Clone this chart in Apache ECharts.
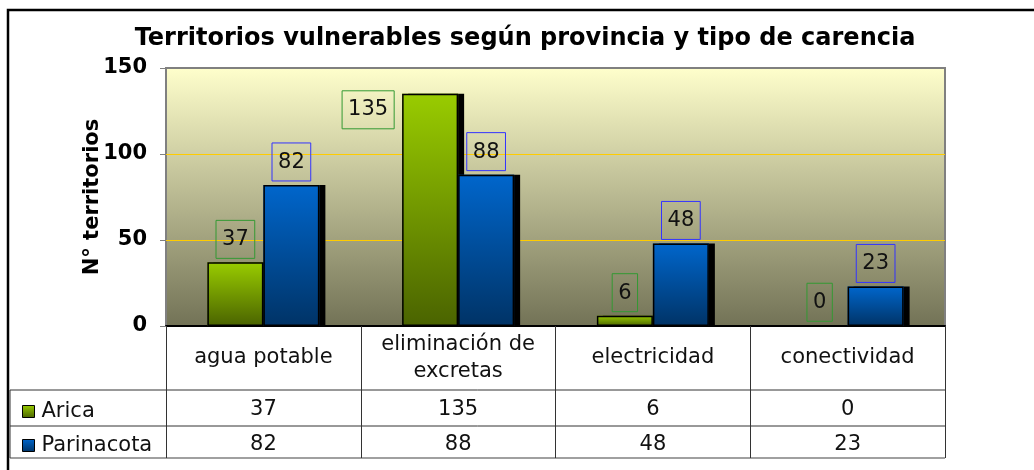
<!DOCTYPE html>
<html>
<head>
<meta charset="utf-8">
<script src="https://cdn.jsdelivr.net/npm/echarts@6/dist/echarts.min.js"></script>
<style>
  html, body { margin: 0; padding: 0; background: #fff; }
  #chart { width: 1034px; height: 470px; }
</style>
</head>
<body>
<div id="chart"></div>
<script>
// data
const categories = ['agua potable', 'eliminación de\nexcretas', 'electricidad', 'conectividad'];
const arica = [37, 135, 6, 0];
const parinacota = [82, 88, 48, 23];
const yTicks = [0, 50, 100, 150];

const FONT = 'DejaVu Sans';
const TXT = 21;
const chart = echarts.init(document.getElementById('chart'), null, { renderer: 'canvas' });

const grad = (top, bottom) => new echarts.graphic.LinearGradient(0, 0, 0, 1, [
    { offset: 0, color: top },
    { offset: 1, color: bottom }
]);

const barLabel = (border) => ({
    show: true,
    position: 'top',
    distance: 4,
    fontFamily: FONT,
    fontSize: TXT,
    color: '#111',
    borderColor: border,
    borderWidth: 1,
    padding: [9, 6, 8, 6]
});

// 135 does not fit above the plot, Excel put it to the left of the bar
const outlineData = (arr, moveIdx) => arr.map((v, i) => {
    const d = { value: v };
    if (v === 0) d.itemStyle = { borderColor: 'transparent' };
    if (i === moveIdx) d.label = { position: [-34, 16], align: 'center', verticalAlign: 'middle' };
    return d;
});

const valueAxis = (arr, margin) => ({
    type: 'category',
    position: 'bottom',
    data: categories,
    axisLine: { show: false },
    axisTick: { show: false },
    axisLabel: {
        interval: 0,
        margin: margin,
        verticalAlign: 'middle',
        fontFamily: FONT,
        fontSize: TXT,
        color: '#111',
        formatter: (v, i) => String(arr[i])
    }
});

// fill + shadow, drawn without border (a stroked shape would shadow its own outline)
const fillSeries = (name, arr, top, bottom) => ({
    name: name,
    type: 'bar',
    xAxisIndex: 0,
    data: arr,
    barWidth: 56,
    barGap: '0%',
    itemStyle: {
        color: grad(top, bottom),
        shadowColor: '#000',
        shadowOffsetX: 6,
        shadowOffsetY: 0,
        shadowBlur: 0
    }
});

// black outline + data label on top of the fill
const outlineSeries = (name, arr, labelBorder, moveIdx) => ({
    name: name,
    type: 'bar',
    xAxisIndex: 3,
    data: outlineData(arr, moveIdx),
    barWidth: 56,
    barGap: '0%',
    z: 3,
    itemStyle: { color: 'transparent', borderColor: '#000', borderWidth: 1.5 },
    label: barLabel(labelBorder)
});

const option = {
    animation: false,
    backgroundColor: '#fff',
    title: {
        text: 'Territorios vulnerables según provincia y tipo de carencia',
        left: 520,
        top: 22,
        textAlign: 'center',
        textStyle: { fontFamily: FONT, fontSize: 24, fontWeight: 'bold', color: '#000' }
    },
    legend: {
        orient: 'vertical',
        left: 17,
        top: 396,
        itemGap: 13,
        itemWidth: 12,
        itemHeight: 12,
        icon: 'rect',
        itemStyle: { borderColor: '#000', borderWidth: 1 },
        textStyle: { fontFamily: FONT, fontSize: TXT, color: '#111', padding: [0, 0, 0, 2] },
        data: ['Arica', 'Parinacota']
    },
    grid: {
        left: 166,
        top: 68,
        right: 89,
        bottom: 144,
        show: true,
        borderColor: '#808080',
        borderWidth: 2,
        backgroundColor: grad('#ffffcc', '#727256')
    },
    xAxis: [
        {
            type: 'category',
            position: 'bottom',
            data: categories,
            axisLine: { show: true, lineStyle: { color: '#000', width: 2 } },
            // long ticks at the category edges form the table's column lines
            axisTick: { show: true, interval: 0, alignWithLabel: false, length: 132, lineStyle: { color: '#333', width: 1 } },
            axisLabel: {
                interval: 0,
                margin: 32,
                verticalAlign: 'middle',
                lineHeight: 27,
                fontFamily: FONT,
                fontSize: TXT,
                color: '#111'
            }
        },
        valueAxis(arica, 84),
        valueAxis(parinacota, 119),
        { type: 'category', position: 'bottom', data: categories, show: false }
    ],
    yAxis: {
        type: 'value',
        min: 0,
        max: 150,
        interval: 50,
        name: 'N° territorios',
        nameLocation: 'middle',
        nameGap: 63,
        nameMoveOverlap: false,
        nameTextStyle: { fontFamily: FONT, fontSize: 21, fontWeight: 'bold', color: '#000' },
        axisLine: { show: false },
        axisTick: { show: true, length: 6, lineStyle: { color: '#808080' } },
        axisLabel: {
            margin: 19,
            fontFamily: FONT,
            fontSize: 21,
            fontWeight: 'bold',
            color: '#000',
            formatter: v => yTicks.includes(v) ? String(v) : ''
        },
        splitLine: { lineStyle: { color: ['transparent', '#ffcc00', '#ffcc00', 'transparent'], width: 1 } }
    },
    series: [
        fillSeries('Arica', arica, '#99cc00', '#4a6300'),
        fillSeries('Parinacota', parinacota, '#0066cc', '#003366'),
        outlineSeries('Arica', arica, '#339933', 1),
        outlineSeries('Parinacota', parinacota, '#3333ff', -1)
    ],
    graphic: [
        // outer chart frame (only top and left show in the crop)
        { type: 'polyline', shape: { points: [[8, 480], [8, 10], [1050, 10]] }, style: { stroke: '#000', lineWidth: 2.5, fill: null } },
        // data table rows
        { type: 'line', shape: { x1: 10, y1: 390, x2: 945, y2: 390 }, style: { stroke: '#333', lineWidth: 1 } },
        { type: 'line', shape: { x1: 10, y1: 426, x2: 945, y2: 426 }, style: { stroke: '#333', lineWidth: 1 } },
        { type: 'line', shape: { x1: 10, y1: 458, x2: 945, y2: 458 }, style: { stroke: '#808080', lineWidth: 1.5 } },
        { type: 'line', shape: { x1: 10, y1: 390, x2: 10, y2: 458 }, style: { stroke: '#333', lineWidth: 1 } }
    ]
};

chart.setOption(option);
</script>
</body>
</html>
